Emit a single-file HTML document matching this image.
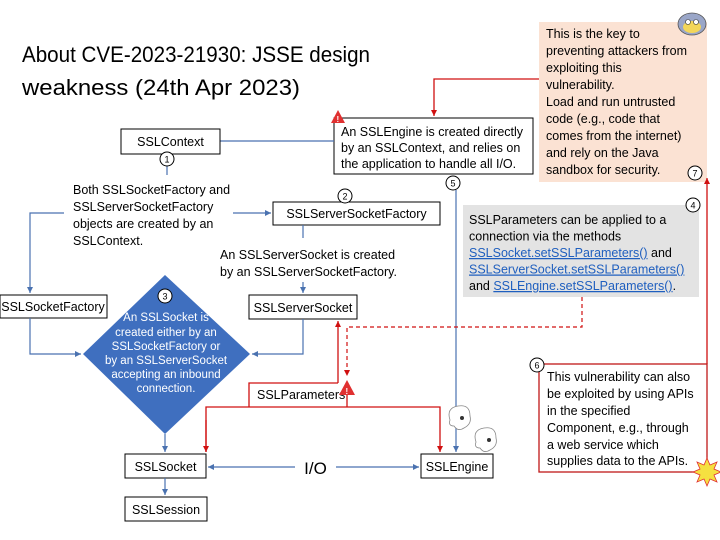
<!DOCTYPE html>
<html><head><meta charset="utf-8"><style>
html,body{margin:0;padding:0;background:#fff;}
svg{display:block;font-family:"Liberation Sans",sans-serif;}
.t{font-size:12.5px;fill:#000;}
.w{font-size:11.5px;fill:#fff;}
.lk{fill:#1f5fbf;text-decoration:underline;}
</style></head><body>
<svg width="720" height="540" viewBox="0 0 720 540" xmlns="http://www.w3.org/2000/svg">
<defs>
<marker id="ab" markerWidth="8" markerHeight="8" refX="6" refY="3" orient="auto" markerUnits="userSpaceOnUse"><path d="M0,0 L6,3 L0,6z" fill="#4a72b0"/></marker>
<marker id="ar" markerWidth="8" markerHeight="8" refX="6" refY="3" orient="auto" markerUnits="userSpaceOnUse"><path d="M0,0 L6,3 L0,6z" fill="#d01010"/></marker>
</defs>
<rect width="720" height="540" fill="#fff"/>
<text x="22" y="62" font-size="22" textLength="348" lengthAdjust="spacingAndGlyphs">About CVE-2023-21930: JSSE design</text>
<text x="22" y="95" font-size="22" textLength="278" lengthAdjust="spacingAndGlyphs">weakness (24th Apr 2023)</text>

<rect x="539" y="22" width="168" height="160" fill="#fbe2d3"/>
<g class="t">
<text x="546" y="38">This is the key to</text>
<text x="546" y="55">preventing attackers from</text>
<text x="546" y="72">exploiting this</text>
<text x="546" y="89">vulnerability.</text>
<text x="546" y="106">Load and run untrusted</text>
<text x="546" y="123">code (e.g., code that</text>
<text x="546" y="140">comes from the internet)</text>
<text x="546" y="157">and rely on the Java</text>
<text x="546" y="174">sandbox for security.</text>
</g>
<ellipse cx="692" cy="24" rx="14" ry="11" fill="#9aa6c8" stroke="#555" stroke-width="0.8"/>
<ellipse cx="692" cy="27" rx="9" ry="6" fill="#f3d65a"/>
<circle cx="688" cy="22" r="2.5" fill="#fff" stroke="#333" stroke-width="0.6"/>
<circle cx="696" cy="22" r="2.5" fill="#fff" stroke="#333" stroke-width="0.6"/>

<polyline points="539,79 434,79 434,116" fill="none" stroke="#d01010" stroke-width="1.3" marker-end="url(#ar)"/>

<rect x="334" y="118" width="199" height="56" fill="#fff" stroke="#000" stroke-width="1"/>
<g class="t">
<text x="341" y="136">An SSLEngine is created directly</text>
<text x="341" y="152">by an SSLContext, and relies on</text>
<text x="341" y="168">the application to handle all I/O.</text>
</g>
<path d="M338,110 L345,123 L331,123z" fill="#e03030"/>
<text x="336.5" y="122" font-size="8" fill="#fff" font-weight="bold">!</text>

<line x1="220" y1="141" x2="334" y2="141" stroke="#4a72b0" stroke-width="1.2"/>
<rect x="121" y="129" width="99" height="25" fill="#fff" stroke="#000"/>
<text class="t" x="170.5" y="146" text-anchor="middle">SSLContext</text>
<line x1="167" y1="166" x2="167" y2="175" stroke="#4a72b0" stroke-width="1.2"/>
<g class="t">
<text x="73" y="194">Both SSLSocketFactory and</text>
<text x="73" y="211">SSLServerSocketFactory</text>
<text x="73" y="228">objects are created by an</text>
<text x="73" y="245">SSLContext.</text>
</g>
<polyline points="64,213 30,213 30,293" fill="none" stroke="#4a72b0" stroke-width="1.2" marker-end="url(#ab)"/>
<line x1="233" y1="213" x2="271" y2="213" stroke="#4a72b0" stroke-width="1.2" marker-end="url(#ab)"/>

<rect x="273" y="202" width="167" height="23" fill="#fff" stroke="#000"/>
<text class="t" x="356.5" y="218" text-anchor="middle">SSLServerSocketFactory</text>
<line x1="303" y1="225" x2="303" y2="238" stroke="#4a72b0" stroke-width="1.2"/>
<g class="t">
<text x="220" y="259">An SSLServerSocket is created</text>
<text x="220" y="276">by an SSLServerSocketFactory.</text>
</g>
<line x1="303" y1="282" x2="303" y2="293" stroke="#4a72b0" stroke-width="1.2" marker-end="url(#ab)"/>

<rect x="0" y="295" width="107" height="23" fill="#fff" stroke="#000"/>
<text class="t" x="53" y="311" text-anchor="middle">SSLSocketFactory</text>
<polyline points="30,318 30,354 81,354" fill="none" stroke="#4a72b0" stroke-width="1.2" marker-end="url(#ab)"/>

<rect x="249" y="295" width="108" height="24" fill="#fff" stroke="#000"/>
<text class="t" x="303" y="312" text-anchor="middle">SSLServerSocket</text>
<polyline points="303,319 303,354 252,354" fill="none" stroke="#4a72b0" stroke-width="1.2" marker-end="url(#ab)"/>

<path d="M165,275 L250,354 L165,434 L83,354z" fill="#3f6fbf"/>
<g class="w" text-anchor="middle">
<text x="166" y="321">An SSLSocket is</text>
<text x="166" y="336">created either by an</text>
<text x="166" y="350">SSLSocketFactory or</text>
<text x="166" y="364">by an SSLServerSocket</text>
<text x="166" y="378">accepting an inbound</text>
<text x="166" y="392">connection.</text>
</g>
<line x1="165" y1="434" x2="165" y2="452" stroke="#4a72b0" stroke-width="1.2" marker-end="url(#ab)"/>

<rect x="125" y="454" width="81" height="24" fill="#fff" stroke="#000"/>
<text class="t" x="165.5" y="471" text-anchor="middle">SSLSocket</text>
<line x1="165" y1="478" x2="165" y2="495" stroke="#4a72b0" stroke-width="1.2" marker-end="url(#ab)"/>
<rect x="125" y="497" width="82" height="24" fill="#fff" stroke="#000"/>
<text class="t" x="166" y="514" text-anchor="middle">SSLSession</text>

<line x1="295" y1="467" x2="208" y2="467" stroke="#4a72b0" stroke-width="1.2" marker-end="url(#ab)"/>
<line x1="336" y1="467" x2="419" y2="467" stroke="#4a72b0" stroke-width="1.2" marker-end="url(#ab)"/>
<text x="315.5" y="474" font-size="17" text-anchor="middle">I/O</text>

<line x1="456" y1="190" x2="456" y2="452" stroke="#4a72b0" stroke-width="1.2" marker-end="url(#ab)"/>
<rect x="421" y="454" width="72" height="24" fill="#fff" stroke="#000"/>
<text class="t" x="457" y="471" text-anchor="middle">SSLEngine</text>

<polyline points="338,383 249,383 249,407" fill="none" stroke="#d01010" stroke-width="1.3"/>
<line x1="338" y1="383" x2="338" y2="321" stroke="#d01010" stroke-width="1.3" marker-end="url(#ar)"/>
<polyline points="206,452 206,407 440,407 440,452" fill="none" stroke="#d01010" stroke-width="1.3" marker-end="url(#ar)"/>
<line x1="206" y1="420" x2="206" y2="452" stroke="#d01010" stroke-width="1.3" marker-end="url(#ar)"/>
<line x1="347" y1="407" x2="347" y2="390" stroke="#d01010" stroke-width="1.3"/>
<text class="t" x="257" y="399">SSLParameters</text>
<polyline points="582,297 582,327 347,327 347,376" fill="none" stroke="#d01010" stroke-width="1.2" stroke-dasharray="4,3" marker-end="url(#ar)"/>
<path d="M347,380 L355,395 L339,395z" fill="#e03030"/>
<text x="345.5" y="394" font-size="8" fill="#fff" font-weight="bold">!</text>

<path d="M450,420 q-4,-12 8,-14 q12,-2 12,10 q2,8 -6,12 q-6,4 -10,-2 q-6,0 -4,-6z" fill="#fff" stroke="#888" stroke-width="0.8"/>
<circle cx="462" cy="418" r="2" fill="#333"/>
<path d="M476,442 q-4,-12 8,-14 q12,-2 12,10 q2,8 -6,12 q-6,4 -10,-2 q-6,0 -4,-6z" fill="#fff" stroke="#888" stroke-width="0.8"/>
<circle cx="489" cy="440" r="2" fill="#333"/>

<rect x="463" y="205" width="236" height="92" fill="#e3e3e3"/>
<g class="t">
<text x="469" y="224">SSLParameters can be applied to a</text>
<text x="469" y="240.5">connection via the methods</text>
<text x="469" y="257"><tspan class="lk">SSLSocket.setSSLParameters()</tspan> and</text>
<text x="469" y="273.5" class="t lk">SSLServerSocket.setSSLParameters()</text>
<text x="469" y="290">and <tspan class="lk">SSLEngine.setSSLParameters()</tspan>.</text>
</g>

<line x1="707" y1="364" x2="707" y2="178" stroke="#d01010" stroke-width="1.3" marker-end="url(#ar)"/>
<rect x="539" y="364" width="168" height="108" fill="#fff" stroke="#c01818" stroke-width="1.3"/>
<g class="t">
<text x="547" y="381">This vulnerability can also</text>
<text x="547" y="398">be exploited by using APIs</text>
<text x="547" y="415">in the specified</text>
<text x="547" y="432">Component, e.g., through</text>
<text x="547" y="449">a web service which</text>
<text x="547" y="465">supplies data to the APIs.</text>
</g>
<path d="M707,458 l3,7 7,-3 -3,7 7,3 -7,3 3,7 -7,-3 -3,7 -3,-7 -7,3 3,-7 -7,-3 7,-3 -3,-7 7,3z" fill="#f5e040" stroke="#e03030" stroke-width="0.8"/>

<g font-size="9" text-anchor="middle" fill="#000">
<circle cx="167" cy="159" r="7" fill="#fff" stroke="#000"/><text x="167" y="162.5">1</text>
<circle cx="345" cy="196" r="7" fill="#fff" stroke="#000"/><text x="345" y="199.5">2</text>
<circle cx="165" cy="296" r="7" fill="#fff" stroke="#000"/><text x="165" y="299.5">3</text>
<circle cx="693" cy="205" r="7" fill="#fff" stroke="#000"/><text x="693" y="208.5">4</text>
<circle cx="453" cy="183" r="7" fill="#fff" stroke="#000"/><text x="453" y="186.5">5</text>
<circle cx="537" cy="365" r="7" fill="#fff" stroke="#000"/><text x="537" y="368.5">6</text>
<circle cx="695" cy="173" r="7" fill="#fff" stroke="#000"/><text x="695" y="176.5">7</text>
</g>
</svg>
</body></html>
